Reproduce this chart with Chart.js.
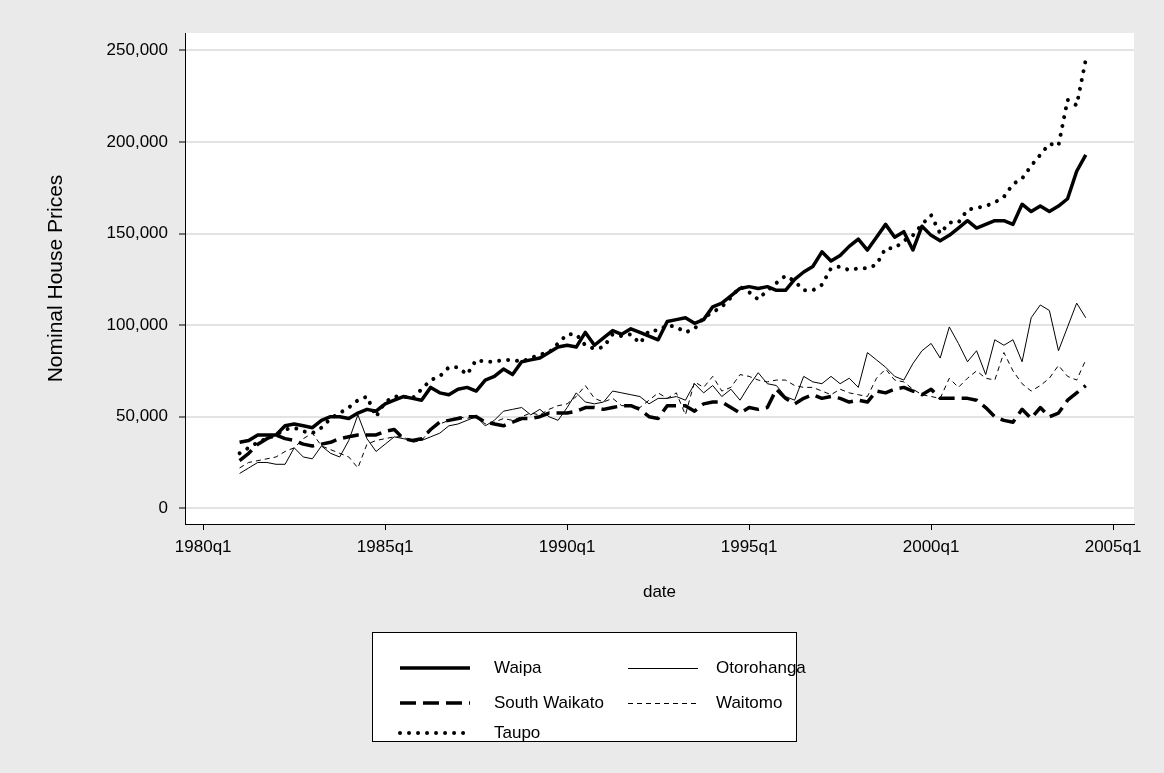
<!DOCTYPE html>
<html lang="en">
    <head>
        <meta charset="UTF-8" />
        <title>Nominal House Prices</title>
        <script src="https://cdn.jsdelivr.net/npm/chart.js"></script>
        <style>
            html, body { margin: 0; padding: 0; background: #fff; }
            #wrap { width: 1164px; height: 773px; }
        </style>
    </head>
    <body>
        <div id="wrap"><canvas id="chart" width="1164" height="773"></canvas></div>

        <script>
            // quarterly series, 1981q1 .. 2004q2
            const waipa = [36000, 37000, 40000, 40000, 40000, 45000, 46000, 45000, 44000, 48000,
                50000, 50000, 49000, 52000, 54000, 53000, 57000, 59000, 61000, 60000,
                59000, 66000, 63000, 62000, 65000, 66000, 64000, 70000, 72000, 76000,
                73000, 80000, 81000, 82000, 85000, 88000, 89000, 88000, 96000, 89000,
                93000, 97000, 95000, 98000, 96000, 94000, 92000, 102000, 103000, 104000,
                101000, 103000, 110000, 112000, 116000, 120000, 121000, 120000, 121000, 119000,
                119000, 125000, 129000, 132000, 140000, 135000, 138000, 143000, 147000, 141000,
                148000, 155000, 148000, 151000, 141000, 154000, 149000, 146000, 149000, 153000,
                157000, 153000, 155000, 157000, 157000, 155000, 166000, 162000, 165000, 162000,
                165000, 169000, 184000, 193000];

            const southWaikato = [26000, 30000, 35000, 38000, 40000, 38000, 37000, 35000, 34000, 35000,
                36000, 38000, 39000, 40000, 40000, 40000, 42000, 43000, 38000, 37000,
                38000, 43000, 47000, 48000, 49000, 50000, 50000, 47000, 46000, 45000,
                47000, 49000, 49000, 50000, 52000, 52000, 52000, 53000, 55000, 55000,
                54000, 55000, 56000, 56000, 54000, 50000, 49000, 56000, 56000, 56000,
                53000, 57000, 58000, 58000, 55000, 52000, 55000, 54000, 55000, 65000,
                60000, 57000, 60000, 62000, 60000, 61000, 60000, 58000, 59000, 58000,
                64000, 63000, 65000, 66000, 64000, 62000, 65000, 60000, 60000, 60000,
                60000, 59000, 55000, 50000, 48000, 47000, 54000, 49000, 55000, 50000,
                52000, 59000, 63000, 67000];

            const taupo = [30000, 33000, 36000, 38000, 40000, 43000, 44000, 42000, 41000, 44000,
                49000, 52000, 55000, 59000, 61000, 50000, 58000, 61000, 61000, 60000,
                65000, 70000, 72000, 77000, 77000, 73000, 81000, 80000, 80000, 81000,
                81000, 80000, 82000, 84000, 85000, 90000, 95000, 95000, 89000, 87000,
                88000, 95000, 94000, 95000, 90000, 97000, 97000, 100000, 99000, 96000,
                98000, 104000, 107000, 110000, 115000, 121000, 118000, 114000, 119000, 123000,
                127000, 124000, 119000, 119000, 122000, 131000, 132000, 130000, 131000, 131000,
                133000, 142000, 142000, 146000, 149000, 155000, 160000, 150000, 156000, 156000,
                163000, 164000, 165000, 167000, 170000, 177000, 180000, 187000, 193000, 199000,
                198000, 223000, 220000, 245000];

            const otorohanga = [19000, 22000, 25000, 25000, 24000, 24000, 33000, 28000, 27000, 34000,
                30000, 28000, 37000, 51000, 38000, 31000, 35000, 39000, 38000, 37000,
                37000, 39000, 41000, 45000, 46000, 48000, 50000, 45000, 48000, 53000,
                54000, 55000, 51000, 54000, 50000, 48000, 55000, 63000, 58000, 57000,
                58000, 64000, 63000, 62000, 61000, 57000, 60000, 60000, 61000, 59000,
                68000, 63000, 67000, 61000, 65000, 59000, 67000, 74000, 68000, 67000,
                61000, 59000, 72000, 69000, 68000, 72000, 68000, 71000, 66000, 85000,
                81000, 77000, 72000, 70000, 79000, 86000, 90000, 82000, 99000, 90000,
                80000, 86000, 73000, 92000, 89000, 92000, 80000, 104000, 111000, 108000,
                86000, 99000, 112000, 104000];

            const waitomo = [22000, 25000, 26000, 27000, 28000, 31000, 33000, 38000, 41000, 34000,
                32000, 30000, 28000, 22000, 35000, 37000, 38000, 39000, 39000, 36000,
                37000, 43000, 46000, 48000, 50000, 49000, 51000, 46000, 47000, 49000,
                48000, 50000, 52000, 51000, 54000, 56000, 57000, 61000, 67000, 60000,
                58000, 60000, 56000, 56000, 55000, 59000, 63000, 60000, 63000, 51000,
                69000, 66000, 72000, 64000, 66000, 73000, 72000, 70000, 69000, 70000,
                70000, 67000, 66000, 66000, 64000, 62000, 65000, 63000, 62000, 61000,
                71000, 76000, 70000, 69000, 65000, 62000, 61000, 60000, 71000, 66000,
                71000, 75000, 71000, 70000, 85000, 75000, 68000, 64000, 67000, 71000,
                78000, 72000, 70000, 81000];

            // x is counted in quarters from 1980q1; data starts at 1981q1
            const quarters = waipa.map((v, i) => 4 + i);

            const xTicks = [0, 20, 40, 60, 80, 100];
            const xTickLabels = ["1980q1", "1985q1", "1990q1", "1995q1", "2000q1", "2005q1"];
            const yTicks = [0, 50000, 100000, 150000, 200000, 250000];

            const font = "'Liberation Sans', Arial, sans-serif";

            function points(values) {
                return values.map((v, i) => ({ x: quarters[i], y: v }));
            }

            // grey graph region, white plot region, boxed legend
            const stataFrame = {
                id: "stataFrame",
                beforeDraw(chart) {
                    const { ctx, chartArea: a } = chart;
                    ctx.save();
                    ctx.fillStyle = "#eaeaea";
                    ctx.fillRect(0, 0, chart.width, chart.height);
                    ctx.fillStyle = "#fff";
                    ctx.fillRect(a.left, a.top, a.right - a.left, a.bottom - a.top);
                    ctx.restore();
                },
                afterDraw(chart) {
                    const ctx = chart.ctx;
                    ctx.save();
                    ctx.fillStyle = "#fff";
                    ctx.fillRect(372, 632, 424, 109);
                    ctx.strokeStyle = "#000";
                    ctx.lineWidth = 1;
                    ctx.strokeRect(372.5, 632.5, 424, 109);

                    const slots = [
                        { x: 400, y: 668, tx: 494 },
                        { x: 400, y: 703, tx: 494 },
                        { x: 400, y: 733, tx: 494 },
                        { x: 628, y: 668, tx: 716 },
                        { x: 628, y: 703, tx: 716 },
                    ];
                    ctx.font = "17px " + font;
                    ctx.textBaseline = "middle";
                    chart.data.datasets.forEach((ds, i) => {
                        const s = slots[i];
                        // thin lines sit on a pixel centre so they stay black
                        const ly = ds.borderWidth < 2 ? s.y + 0.5 : s.y;
                        ctx.beginPath();
                        ctx.setLineDash(ds.borderDash || []);
                        ctx.lineCap = ds.borderCapStyle || "butt";
                        ctx.lineWidth = ds.borderWidth;
                        ctx.strokeStyle = ds.borderColor;
                        ctx.moveTo(s.x, ly);
                        ctx.lineTo(s.x + 70, ly);
                        ctx.stroke();
                        ctx.fillStyle = "#000";
                        ctx.fillText(ds.label, s.tx, s.y);
                    });
                    ctx.restore();
                },
            };

            new Chart(document.getElementById("chart"), {
                type: "line",
                data: {
                    datasets: [
                        {
                            label: "Waipa",
                            data: points(waipa),
                            borderColor: "#000",
                            borderWidth: 3.5,
                        },
                        {
                            label: "South Waikato",
                            data: points(southWaikato),
                            borderColor: "#000",
                            borderWidth: 3.5,
                            borderDash: [16, 7],
                        },
                        {
                            label: "Taupo",
                            data: points(taupo),
                            borderColor: "#000",
                            borderWidth: 4,
                            borderDash: [0.01, 9],
                            borderCapStyle: "round",
                        },
                        {
                            label: "Otorohanga",
                            data: points(otorohanga),
                            borderColor: "#000",
                            borderWidth: 1,
                        },
                        {
                            label: "Waitomo",
                            data: points(waitomo),
                            borderColor: "#000",
                            borderWidth: 1,
                            borderDash: [5, 4],
                        },
                    ],
                },
                options: {
                    responsive: false,
                    animation: false,
                    layout: { padding: { top: 33, right: 30, bottom: 163, left: 0 } },
                    elements: {
                        point: { radius: 0 },
                        line: { tension: 0, borderJoinStyle: "round" },
                    },
                    plugins: { legend: { display: false }, tooltip: { enabled: false } },
                    scales: {
                        x: {
                            type: "linear",
                            min: -2,
                            max: 102.3,
                            afterBuildTicks: (scale) => {
                                scale.ticks = xTicks.map((v) => ({ value: v }));
                            },
                            afterFit: (scale) => {
                                scale.height = 86;
                            },
                            ticks: {
                                autoSkip: false,
                                maxRotation: 0,
                                padding: 7,
                                color: "#000",
                                font: { family: font, size: 17 },
                                callback: (v) => xTickLabels[xTicks.indexOf(v)],
                            },
                            grid: { drawOnChartArea: false, tickColor: "#000", tickLength: 6 },
                            border: { color: "#000", width: 1 },
                            title: {
                                display: true,
                                text: "date",
                                color: "#000",
                                font: { family: font, size: 17 },
                                padding: { top: 0, bottom: 7 },
                            },
                        },
                        y: {
                            min: -8600,
                            max: 259500,
                            afterBuildTicks: (scale) => {
                                scale.ticks = yTicks.map((v) => ({ value: v }));
                            },
                            afterFit: (scale) => {
                                scale.width = 185;
                            },
                            ticks: {
                                padding: 11,
                                color: "#000",
                                font: { family: font, size: 17 },
                                callback: (v) => v.toLocaleString("en-US"),
                            },
                            grid: {
                                color: "#e3e3e3",
                                lineWidth: 2,
                                tickColor: "#000",
                                tickWidth: 1,
                                tickLength: 6,
                            },
                            border: { color: "#000", width: 1 },
                            title: {
                                display: true,
                                text: "Nominal House Prices",
                                color: "#000",
                                font: { family: font, size: 21 },
                                padding: { top: 44, bottom: 0 },
                            },
                        },
                    },
                },
                plugins: [stataFrame],
            });
        </script>
    </body>
</html>
